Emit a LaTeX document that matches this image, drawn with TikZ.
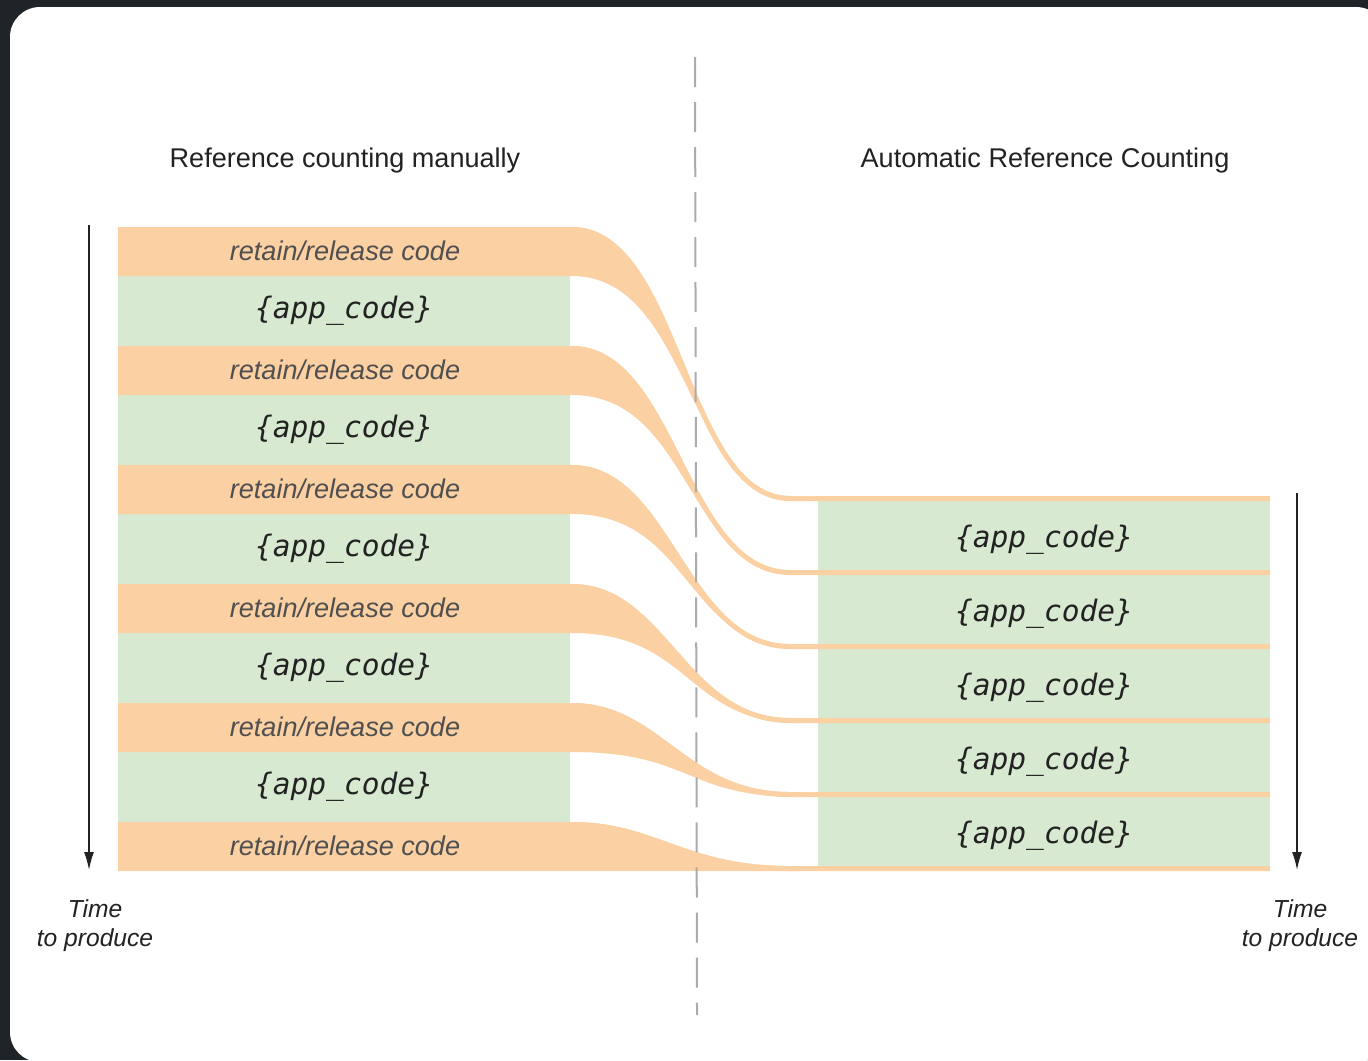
\documentclass[tikz,border=0pt]{standalone}
\usepackage{fontspec}
\setmainfont{Liberation Sans}
\newfontfamily\codefont{DejaVu Sans Mono}[ItalicFont={DejaVu Sans Mono Oblique}]
\usetikzlibrary{arrows.meta, positioning}
\usepackage{xcolor}
\definecolor{backdrop}{HTML}{1F2428}
\definecolor{retain}{HTML}{FBD0A3}
\definecolor{appgreen}{HTML}{D7E9D0}
\definecolor{divider}{HTML}{ABABAB}
\definecolor{labelgray}{HTML}{505050}
\definecolor{inkdark}{HTML}{222222}

\tikzset{
    heading/.style={font=\fontsize{7.7}{9}\selectfont, text=inkdark},
    rrlabel/.style={font=\fontsize{7.7}{9}\selectfont\itshape, text=labelgray},
    appblock/.style={fill=appgreen, minimum width=4.52cm, minimum height=0.70cm,
        inner sep=0pt, outer sep=0pt, text=inkdark,
        font=\codefont\fontsize{8.4}{10}\selectfont\itshape},
    timelabel/.style={font=\fontsize{7}{8.3}\selectfont\itshape, text=inkdark, align=center},
    timearrow/.style={line width=0.015cm, inkdark, -{Latex[length=0.18cm, width=0.1cm]}}
}

\begin{document}
\begin{tikzpicture}[x=0.01cm, y=-0.01cm]
    \useasboundingbox (0,0) rectangle (1368,1060);
    \fill[backdrop] (0,0) rectangle (1368,1060);
    \fill[white, rounded corners=0.3cm] (10,7) rectangle (1386,1062);

    % titles of both halves
    \node[heading] (manual) at (345,160) {Reference counting manually};
    \node[heading] (auto) at (1045,160) {Automatic Reference Counting};

    % app code blocks, left and right
    \foreach \i in {0,...,4}
        \node[appblock] (man\i) at (344,311+119*\i) {\{app\_code\}};
    \foreach \i in {0,...,4}
        \node[appblock, minimum height=0.69cm, text height=8.5pt, text depth=1.5pt] (arc\i) at (1044,535.5+74*\i) {\{app\_code\}};

    % retain/release bands squeezed into thin lines
    \foreach \i [evaluate=\i as \t using 227+119*\i,
                 evaluate=\i as \r using 496+74*\i,
                 evaluate=\i as \c using 680-5*\i] in {0,...,5} {
        \fill[retain] (118,\t) -- (572,\t) .. controls (\c,\t) and (684,\r) .. (790,\r)
            -- (800,\r+5) .. controls (685,\r+5) and (692,\t+49) .. (572,\t+49)
            -- (118,\t+49) -- cycle;
        \draw[retain, line width=0.05cm] (572,\t+2.5) .. controls (\c,\t+2.5) and (684,\r+2.5) .. (790,\r+2.5) -- (1270,\r+2.5);
        \node[rrlabel] (rr\i) at (345,\t+24) {retain/release code};
    }

    % divider
    \coordinate (divtop) at (695,57);
    \coordinate (divbot) at (697,1015);
    \draw[divider, line width=0.02cm, dash pattern=on 0.3cm off 0.15cm] (divtop) -- (divbot);

    % time axes
    \coordinate (ltop) at (89,225);
    \coordinate (lbot) at (89,870);
    \coordinate (rtop) at (1297,493);
    \coordinate (rbot) at (1297,870);
    \draw[timearrow] (ltop) -- (lbot);
    \draw[timearrow] (rtop) -- (rbot);
    \node[timelabel] (ltime) at (95,926) {Time\\to produce};
    \node[timelabel] (rtime) at (1300,926) {Time\\to produce};
\end{tikzpicture}
\end{document}
